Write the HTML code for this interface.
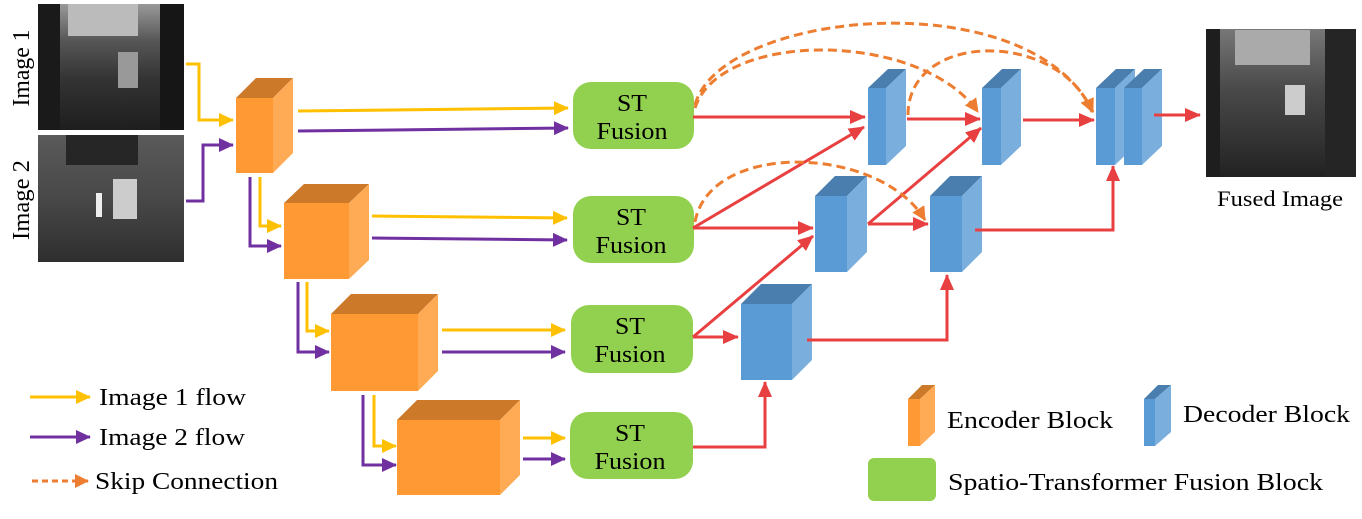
<!DOCTYPE html>
<html><head><meta charset="utf-8"><style>
html,body{margin:0;padding:0;background:#fff;}
svg, svg text{font-family:"Liberation Serif","Times New Roman",serif;}
</style></head><body>
<svg width="1362" height="514" viewBox="0 0 1362 514" xmlns="http://www.w3.org/2000/svg" font-family="Liberation Serif, serif">
<defs>
<marker id="ar" markerWidth="16" markerHeight="14" refX="15" refY="7" orient="auto" markerUnits="userSpaceOnUse"><path d="M0,0 L16,7 L0,14 z" fill="#E84040"/></marker>
<marker id="ao" markerWidth="14" markerHeight="14" refX="13" refY="7" orient="auto" markerUnits="userSpaceOnUse"><path d="M0,0 L14,7 L0,14 z" fill="#ED7D31"/></marker>
<marker id="ay2" markerWidth="15" markerHeight="14" refX="14" refY="7" orient="auto" markerUnits="userSpaceOnUse"><path d="M0,0 L15,7 L0,14 z" fill="#FFC000"/></marker>
<marker id="ap2" markerWidth="15" markerHeight="14" refX="14" refY="7" orient="auto" markerUnits="userSpaceOnUse"><path d="M0,0 L15,7 L0,14 z" fill="#7030A0"/></marker>
<linearGradient id="g1" x1="0" y1="0" x2="0" y2="1"><stop offset="0" stop-color="#999"/><stop offset="0.3" stop-color="#555"/><stop offset="0.6" stop-color="#333"/><stop offset="1" stop-color="#1e1e1e"/></linearGradient>
<linearGradient id="g2" x1="0" y1="0" x2="0" y2="1"><stop offset="0" stop-color="#5a5a5a"/><stop offset="0.5" stop-color="#484848"/><stop offset="1" stop-color="#2e2e2e"/></linearGradient>
<linearGradient id="g3" x1="0" y1="0" x2="0" y2="1"><stop offset="0" stop-color="#777"/><stop offset="0.4" stop-color="#4a4a4a"/><stop offset="1" stop-color="#222"/></linearGradient>
</defs>

<rect x="38" y="4" width="146" height="126" fill="url(#g1)"/>
<rect x="68" y="4" width="70" height="32" fill="#bbb"/>
<rect x="118" y="52" width="20" height="36" fill="#999"/>
<rect x="38" y="4" width="22" height="126" fill="#1a1a1a"/>
<rect x="160" y="4" width="24" height="126" fill="#161616"/>
<rect x="38" y="135" width="146" height="127" fill="url(#g2)"/>
<rect x="66" y="135" width="72" height="30" fill="#262626"/>
<rect x="113" y="179" width="24" height="40" fill="#ccc"/>
<rect x="96" y="193" width="6" height="24" fill="#eee"/>
<rect x="1206" y="29" width="150" height="148" fill="url(#g3)"/>
<rect x="1235" y="30" width="75" height="35" fill="#aaa"/>
<rect x="1285" y="85" width="20" height="30" fill="#ccc"/>
<rect x="1206" y="29" width="14" height="148" fill="#1e1e1e"/>
<rect x="1325" y="29" width="31" height="148" fill="#252525"/>

<g font-size="24" fill="#000" font-family="Liberation Serif, serif">
<text transform="translate(29,68) rotate(-90)" text-anchor="middle" textLength="77" lengthAdjust="spacingAndGlyphs">Image 1</text>
<text transform="translate(29,200) rotate(-90)" text-anchor="middle" textLength="80" lengthAdjust="spacingAndGlyphs">Image 2</text>
<text x="1217" y="206" font-size="22" textLength="126" lengthAdjust="spacingAndGlyphs">Fused Image</text>
</g>

<g fill="none" stroke-width="3">
<polyline points="186,64 199,64 199,120 233,120" stroke="#FFC000" marker-end="url(#ay2)"/>
<polyline points="186,201 203,201 203,145 233,145" stroke="#7030A0" marker-end="url(#ap2)"/>
<line x1="298" y1="111" x2="568" y2="108" stroke="#FFC000" marker-end="url(#ay2)"/>
<line x1="298" y1="131" x2="568" y2="128" stroke="#7030A0" marker-end="url(#ap2)"/>
<polyline points="260,177 260,226 281,226" stroke="#FFC000" marker-end="url(#ay2)"/>
<polyline points="250,177 250,246 281,246" stroke="#7030A0" marker-end="url(#ap2)"/>
<line x1="372" y1="216" x2="567" y2="218" stroke="#FFC000" marker-end="url(#ay2)"/>
<line x1="372" y1="238" x2="567" y2="240" stroke="#7030A0" marker-end="url(#ap2)"/>
<polyline points="307,282 307,331 329,331" stroke="#FFC000" marker-end="url(#ay2)"/>
<polyline points="298,282 298,352 329,352" stroke="#7030A0" marker-end="url(#ap2)"/>
<line x1="442" y1="330" x2="565" y2="330" stroke="#FFC000" marker-end="url(#ay2)"/>
<line x1="442" y1="352" x2="565" y2="352" stroke="#7030A0" marker-end="url(#ap2)"/>
<polyline points="374,395 374,446 396,446" stroke="#FFC000" marker-end="url(#ay2)"/>
<polyline points="363,395 363,465 396,465" stroke="#7030A0" marker-end="url(#ap2)"/>
<line x1="523" y1="438" x2="565" y2="438" stroke="#FFC000" marker-end="url(#ay2)"/>
<line x1="523" y1="459" x2="565" y2="459" stroke="#7030A0" marker-end="url(#ap2)"/>
</g>

<g>
<polygon points="236,98 256,78 293,78 273,98" fill="#CC7A2A"/><polygon points="273,98 293,78 293,153 273,173" fill="#FFAA55"/><rect x="236" y="98" width="37" height="75" fill="#FF9933"/>
<polygon points="284,203 304,184 369,184 349,203" fill="#CC7A2A"/><polygon points="349,203 369,184 369,260 349,279" fill="#FFAA55"/><rect x="284" y="203" width="65" height="76" fill="#FF9933"/>
<polygon points="331,314 351,294 438,294 418,314" fill="#CC7A2A"/><polygon points="418,314 438,294 438,371 418,391" fill="#FFAA55"/><rect x="331" y="314" width="87" height="77" fill="#FF9933"/>
<polygon points="397,420 417,400 520,400 500,420" fill="#CC7A2A"/><polygon points="500,420 520,400 520,475 500,495" fill="#FFAA55"/><rect x="397" y="420" width="103" height="75" fill="#FF9933"/>
</g>

<g fill="#92D050">
<rect x="573" y="82" width="121" height="67" rx="18"/>
<rect x="573" y="196" width="121" height="67" rx="18"/>
<rect x="571" y="305" width="122" height="68" rx="18"/>
<rect x="570" y="412" width="123" height="67" rx="18"/>
</g>
<g font-size="24" text-anchor="middle" fill="#000" font-family="Liberation Serif, serif">
<text x="632" y="111" textLength="30" lengthAdjust="spacingAndGlyphs">ST</text><text x="632" y="139" textLength="71" lengthAdjust="spacingAndGlyphs">Fusion</text>
<text x="631" y="225" textLength="30" lengthAdjust="spacingAndGlyphs">ST</text><text x="631" y="253" textLength="71" lengthAdjust="spacingAndGlyphs">Fusion</text>
<text x="630" y="334" textLength="30" lengthAdjust="spacingAndGlyphs">ST</text><text x="630" y="362" textLength="71" lengthAdjust="spacingAndGlyphs">Fusion</text>
<text x="630" y="441" textLength="30" lengthAdjust="spacingAndGlyphs">ST</text><text x="630" y="469" textLength="71" lengthAdjust="spacingAndGlyphs">Fusion</text>
</g>

<g>
<polygon points="868,88 888,69 906,69 886,88" fill="#4A7EAE"/><polygon points="886,88 906,69 906,146 886,165" fill="#7AAEDC"/><rect x="868" y="88" width="18" height="77" fill="#5B9BD5"/>
<polygon points="982,88 1002,69 1021,69 1001,88" fill="#4A7EAE"/><polygon points="1001,88 1021,69 1021,146 1001,165" fill="#7AAEDC"/><rect x="982" y="88" width="19" height="77" fill="#5B9BD5"/>
<polygon points="1096,88 1116,69 1135,69 1115,88" fill="#4A7EAE"/><polygon points="1115,88 1135,69 1135,146 1115,165" fill="#7AAEDC"/><rect x="1096" y="88" width="19" height="77" fill="#5B9BD5"/>
<polygon points="1124,88 1144,69 1162,69 1142,88" fill="#4A7EAE"/><polygon points="1142,88 1162,69 1162,146 1142,165" fill="#7AAEDC"/><rect x="1124" y="88" width="18" height="77" fill="#5B9BD5"/>
<polygon points="815,196 835,176 867,176 847,196" fill="#4A7EAE"/><polygon points="847,196 867,176 867,252 847,272" fill="#7AAEDC"/><rect x="815" y="196" width="32" height="76" fill="#5B9BD5"/>
<polygon points="930,196 950,176 982,176 962,196" fill="#4A7EAE"/><polygon points="962,196 982,176 982,252 962,272" fill="#7AAEDC"/><rect x="930" y="196" width="32" height="76" fill="#5B9BD5"/>
<polygon points="741,304 761,284 812,284 792,304" fill="#4A7EAE"/><polygon points="792,304 812,284 812,360 792,380" fill="#7AAEDC"/><rect x="741" y="304" width="51" height="76" fill="#5B9BD5"/>
</g>

<g fill="none" stroke="#E84040" stroke-width="3" marker-end="url(#ar)">
<line x1="693" y1="117" x2="865" y2="117"/>
<line x1="693" y1="228" x2="864" y2="127"/>
<line x1="693" y1="228" x2="813" y2="228"/>
<line x1="693" y1="337" x2="813" y2="236"/>
<line x1="693" y1="337" x2="738" y2="337"/>
<polyline points="693,447 765,447 765,382"/>
<line x1="907" y1="119" x2="980" y2="119"/>
<line x1="868" y1="224" x2="981" y2="128"/>
<line x1="868" y1="224" x2="928" y2="224"/>
<line x1="1023" y1="120" x2="1094" y2="120"/>
<polyline points="975,230 1113,230 1113,166"/>
<polyline points="807,340 947,340 947,275"/>
<line x1="1154" y1="115" x2="1200" y2="115"/>
</g>

<g fill="none" stroke="#ED7D31" stroke-width="3" stroke-dasharray="9,5" marker-end="url(#ao)">
<path d="M695,105 C720,10 1030,-20 1093,112"/>
<path d="M695,108 C720,30 920,30 978,112"/>
<path d="M908,115 C908,30 1060,30 1092,112"/>
<path d="M695,222 C710,140 880,145 925,220"/>
</g>

<g stroke-width="3" fill="none">
<line x1="30" y1="397" x2="90" y2="397" stroke="#FFC000" marker-end="url(#ay2)"/>
<line x1="30" y1="437" x2="90" y2="437" stroke="#7030A0" marker-end="url(#ap2)"/>
<line x1="32" y1="481" x2="88" y2="481" stroke="#ED7D31" stroke-dasharray="6,4" marker-end="url(#ao)"/>
</g>
<g font-size="24" fill="#000" font-family="Liberation Serif, serif" lengthAdjust="spacingAndGlyphs">
<text x="99" y="405" textLength="147" lengthAdjust="spacingAndGlyphs">Image 1 flow</text>
<text x="99" y="445" textLength="146" lengthAdjust="spacingAndGlyphs">Image 2 flow</text>
<text x="95" y="489" textLength="183" lengthAdjust="spacingAndGlyphs">Skip Connection</text>
<text x="947" y="428" textLength="166" lengthAdjust="spacingAndGlyphs">Encoder Block</text>
<text x="1183" y="422" textLength="167" lengthAdjust="spacingAndGlyphs">Decoder Block</text>
<text x="948" y="490" textLength="375" lengthAdjust="spacingAndGlyphs">Spatio-Transformer Fusion Block</text>
</g>
<polygon points="908,399 922,385 935,385 920,399" fill="#CC7A2A"/><polygon points="920,399 935,385 935,432 920,446" fill="#FFAA55"/><rect x="908" y="399" width="12" height="47" fill="#FF9933"/>
<polygon points="1144,399 1158,385 1171,385 1155,399" fill="#4A7EAE"/><polygon points="1155,399 1171,385 1171,432 1155,446" fill="#7AAEDC"/><rect x="1144" y="399" width="11" height="47" fill="#5B9BD5"/>
<rect x="868" y="458" width="68" height="43" rx="6" fill="#92D050"/>
</svg>
</body></html>
